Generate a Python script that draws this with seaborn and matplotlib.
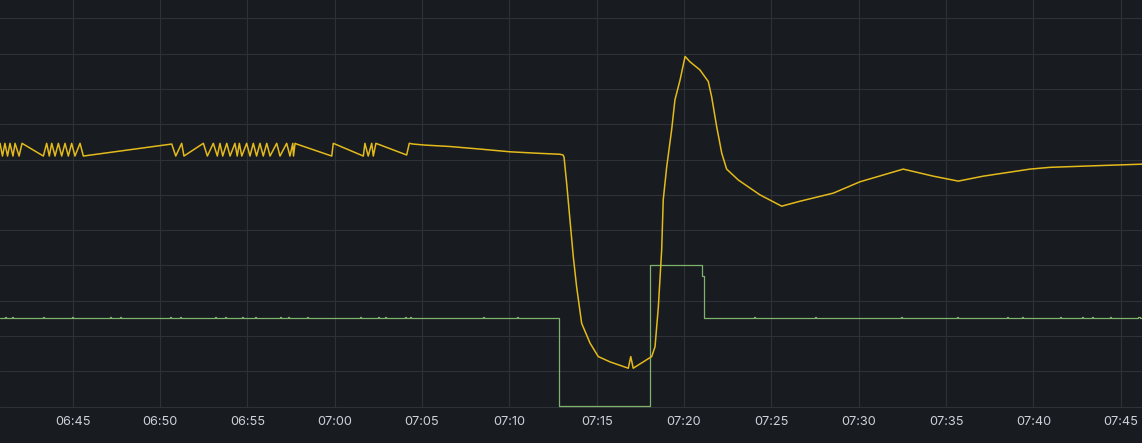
import numpy as np
import pandas as pd
import matplotlib
matplotlib.use("Agg")
import matplotlib.pyplot as plt
import matplotlib.dates as mdates
import seaborn as sns

# ---- data (minutes after 06:40, values in panel units) ----
yellow_min = [0.84, 0.98, 1.12, 1.27, 1.41, 1.58, 1.70, 1.93, 2.10, 3.32, 3.51, 3.66, 3.80, 3.99,
              4.18, 4.37, 4.56, 4.75, 4.94, 5.13, 5.42, 5.61, 10.67, 10.90, 11.24, 11.37, 12.48,
              12.71, 13.05, 13.28, 13.43, 13.59, 13.82, 14.01, 14.29, 14.42, 14.54, 14.68, 14.96,
              15.15, 15.34, 15.53, 15.72, 15.91, 16.11, 16.30, 16.68, 16.87, 17.25, 17.44, 17.60,
              17.64, 17.73, 17.82, 19.83, 19.92, 21.64, 21.73, 21.92, 22.12, 22.21, 22.36, 24.12,
              24.27, 24.48, 25.17, 26.60, 28.49, 30.04, 31.58, 32.90, 33.07, 33.13, 33.28, 33.47,
              33.66, 33.85, 34.14, 34.62, 35.09, 35.76, 36.81, 36.95, 37.09, 38.15, 38.34, 38.53,
              38.72, 38.81, 39.01, 39.29, 39.48, 39.77, 40.06, 40.34, 40.91, 41.39, 41.58, 41.87,
              42.16, 42.44, 43.11, 44.35, 45.59, 46.64, 48.55, 50.07, 52.55, 54.27, 55.70, 57.13,
              59.81, 60.95, 63.81, 66.22]
yellow_val = [7.46, 7.10, 7.46, 7.10, 7.46, 7.10, 7.46, 7.10, 7.46, 7.10, 7.46, 7.10, 7.46, 7.10,
              7.46, 7.10, 7.46, 7.10, 7.46, 7.10, 7.46, 7.10, 7.44, 7.10, 7.46, 7.10, 7.46,
              7.10, 7.46, 7.10, 7.46, 7.10, 7.46, 7.10, 7.46, 7.10, 7.46, 7.10, 7.46,
              7.10, 7.46, 7.10, 7.46, 7.10, 7.46, 7.10, 7.46, 7.10, 7.46, 7.10, 7.46,
              7.10, 7.46, 7.44, 7.10, 7.46, 7.10, 7.46, 7.10, 7.46, 7.10, 7.46, 7.13,
              7.46, 7.44, 7.41, 7.37, 7.29, 7.22, 7.18, 7.15, 7.13, 7.07, 6.33, 5.29,
              4.25, 3.40, 2.36, 1.80, 1.42, 1.27, 1.09, 1.42, 1.09, 1.42, 1.70, 2.83,
              4.44, 5.86, 6.80, 7.84, 8.69, 9.25, 9.92, 9.77, 9.54, 9.21, 8.78, 7.93,
              7.18, 6.73, 6.42, 6.00, 5.68, 5.82, 6.05, 6.37, 6.73, 6.53, 6.39, 6.53,
              6.73, 6.78, 6.83, 6.87]

green_min = [0.84, 1.12, 1.20, 1.52, 1.60, 3.30, 3.38, 4.96, 5.04, 7.14, 7.22, 7.71, 7.79,
             10.57, 10.65, 11.14, 11.22, 13.15, 13.23, 13.72, 13.80, 14.69, 14.77, 15.44, 15.52,
             16.87, 16.95, 17.33, 17.41, 18.41, 18.49, 21.45, 21.53, 22.48, 22.56, 22.88, 22.96,
             24.02, 24.10, 24.31, 24.39, 28.49, 28.57, 30.44, 30.52,
             32.86, 38.07, 41.05, 41.16,
             44.00, 44.08, 47.50, 47.58, 52.40, 52.48, 55.60, 55.68,
             58.47, 58.55, 59.33, 59.41, 61.53, 61.61, 62.77, 62.85, 63.34, 63.42,
             64.39, 64.47, 66.00, 66.08, 66.22]
green_val = [2.51, 2.55, 2.51, 2.55, 2.51, 2.55, 2.51, 2.55, 2.51, 2.55, 2.51, 2.55, 2.51,
             2.55, 2.51, 2.55, 2.51, 2.55, 2.51, 2.55, 2.51, 2.55, 2.51, 2.55, 2.51,
             2.55, 2.51, 2.55, 2.51, 2.55, 2.51, 2.55, 2.51, 2.55, 2.51, 2.55, 2.51,
             2.55, 2.51, 2.55, 2.51, 2.55, 2.51, 2.55, 2.51,
             0.03, 4.00, 3.70, 2.51,
             2.55, 2.51, 2.55, 2.51, 2.55, 2.51, 2.55, 2.51,
             2.55, 2.51, 2.55, 2.51, 2.55, 2.51, 2.55, 2.51, 2.55, 2.51,
             2.55, 2.51, 2.55, 2.51, 2.51]

x_ticks_fmt = "%H:%M"
base = pd.Timestamp("2024-01-01 06:40:00")

yellow = pd.DataFrame({"time": base + pd.to_timedelta(yellow_min, unit="min"), "value": yellow_val})
green = pd.DataFrame({"time": base + pd.to_timedelta(green_min, unit="min"), "value": green_val})

BG = "#181b1f"
GRID = "#2e3137"
TXT = "#cfd0da"

sns.set_theme(style="dark")
plt.rcParams["font.family"] = ["Inter", "DejaVu Sans"]

fig = plt.figure(figsize=(11.42, 4.43), dpi=100, facecolor=BG)
ax = fig.add_axes([0.0, 35 / 443, 1.0, 408 / 443])
ax.set_facecolor(BG)

sns.lineplot(data=green, x="time", y="value", ax=ax, color="#7EB26D", linewidth=0.9,
             drawstyle="steps-post", estimator=None, sort=True)
sns.lineplot(data=yellow, x="time", y="value", ax=ax, color="#E3BA1C", linewidth=1.1,
             estimator=None, sort=True)

ax.set_xlim(base + pd.Timedelta(minutes=0.838), base + pd.Timedelta(minutes=66.22))
ax.set_ylim(-0.037, 11.52)
ax.set_yticks(np.arange(0, 12))
ax.set_yticklabels([])
ax.xaxis.set_major_locator(mdates.MinuteLocator(byminute=range(0, 60, 5)))
ax.xaxis.set_major_formatter(mdates.DateFormatter(x_ticks_fmt))
ax.grid(True, color=GRID, linewidth=0.8)
ax.set_axisbelow(True)
ax.tick_params(axis="x", length=0, pad=6, labelsize=9.2, colors=TXT)
ax.tick_params(axis="y", length=0)
ax.set_xlabel("")
ax.set_ylabel("")
for s in ax.spines.values():
    s.set_visible(False)

fig.savefig("out.png", dpi=100, facecolor=BG)
